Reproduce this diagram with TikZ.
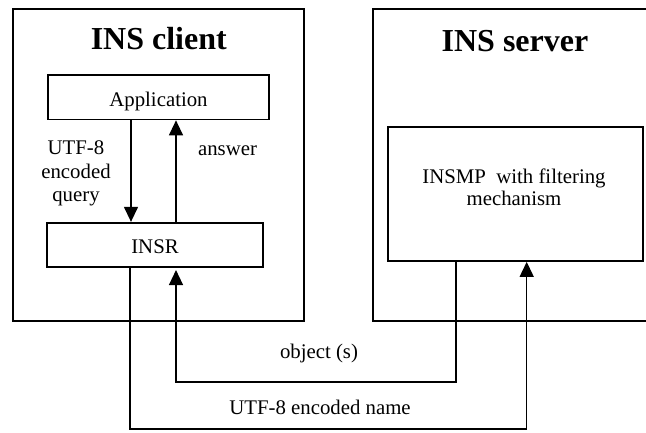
\documentclass[tikz,border=0pt]{standalone}
\usepackage{fontspec}
\setmainfont{Liberation Serif}
\usetikzlibrary{arrows.meta}
\begin{document}
\begin{tikzpicture}[x=1pt,y=-1pt,
  outerbox/.style={draw, line width=2.2pt, inner sep=0pt},
  innerbox/.style={draw, line width=1.7pt, inner sep=0pt, font=\fontsize{20.8}{24}\selectfont, text height=17.5pt, text depth=0pt},
  title/.style={font=\fontsize{32}{36}\selectfont\bfseries, anchor=base, inner sep=0pt},
  lbl/.style={font=\fontsize{20.8}{24}\selectfont, inner sep=0pt},
  conn/.style={line width=1.3pt},
  arr/.style={conn, -{Triangle[length=15pt,width=14pt]}}]
\useasboundingbox (0,0) rectangle (646,432);
% outer boxes
\node[outerbox, minimum width=291.3pt, minimum height=311.7pt] (client) at (158.35,164.85) {};
\node[outerbox, minimum width=286.7pt, minimum height=311.4pt] (server) at (516.65,165) {};
% titles
\node[title] (clienttitle) at (158.8,49.3) {INS client};
\node[title] (servertitle) at (515,51.7) {INS server};
% inner boxes
\node[innerbox, minimum width=221pt, minimum height=44.5pt] (app) at (158.5,97.25) {Application};
\node[innerbox, minimum width=216pt, minimum height=44pt] (insr) at (155,244.7) {INSR};
\node[draw, line width=1.7pt, inner sep=0pt, minimum width=255pt, minimum height=134.3pt] (insmp) at (515.2,193.85) {};
\node[lbl, align=center, font=\fontsize{20.8}{21.7}\selectfont] (insmptext) at (514,187.3) {INSMP\ \ with filtering\\mechanism};
% labels
\node[lbl, align=center, font=\fontsize{20.8}{23.5}\selectfont] (querylbl) at (76,173.8) {UTF-8\\encoded\\query};
\node[lbl, anchor=base] (answerlbl) at (227.5,155) {answer};
\node[lbl, anchor=base] (objlbl) at (319,358) {object (s)};
\node[lbl, anchor=base] (namelbl) at (320,414) {UTF-8 encoded name};
% connectors
\draw[arr] (131,0 |- app.south) -- (131,0 |- insr.north);
\draw[arr] (176,0 |- insr.north) -- (176,0 |- app.south);
\draw[arr, shorten >=2.5pt] (456,0 |- insmp.south) -- (456,382) -| (176,0 |- insr.south);
\draw[arr] (130,0 |- insr.south) -- (130,429) -| (526.7,0 |- insmp.south);
\end{tikzpicture}
\end{document}
